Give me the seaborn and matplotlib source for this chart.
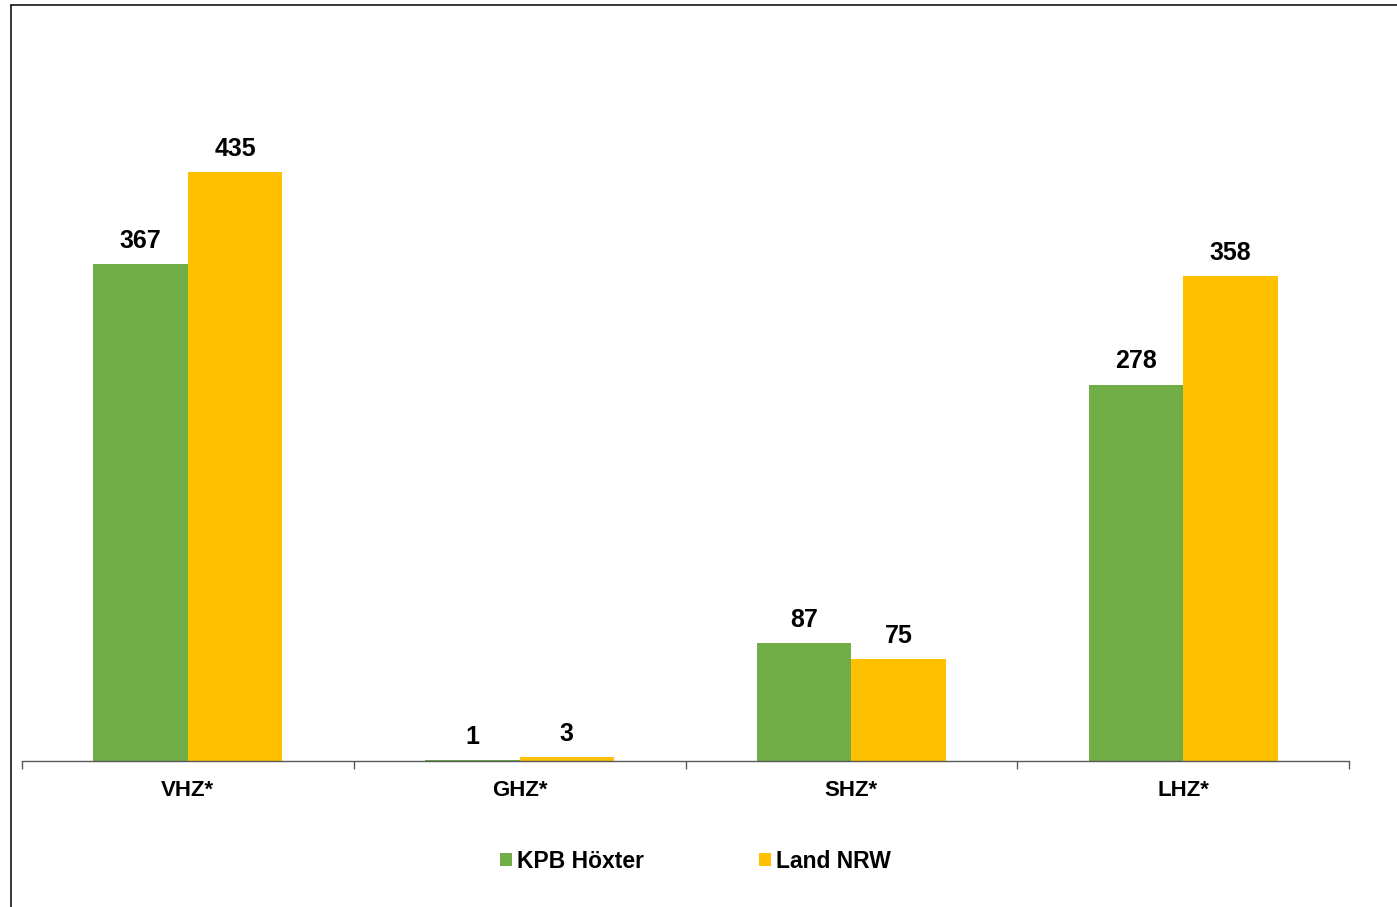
import pandas as pd
import matplotlib.pyplot as plt
import seaborn as sns
from matplotlib.patches import Rectangle
from matplotlib.lines import Line2D

# Chart data
categories = ["VHZ*", "GHZ*", "SHZ*", "LHZ*"]
series_names = ["KPB Höxter", "Land NRW"]
kpb_values = [367, 1, 87, 278]
nrw_values = [435, 3, 75, 358]
colors = ["#70AD47", "#FFC000"]

# Long-form table for seaborn
df = pd.DataFrame({
    "Kategorie": categories * 2,
    "Wert": kpb_values + nrw_values,
    "Serie": [series_names[0]] * len(categories) + [series_names[1]] * len(categories),
})

sns.set_style("white")
plt.rcParams["font.family"] = ["Liberation Sans", "DejaVu Sans"]
plt.rcParams["text.color"] = "black"

fig = plt.figure(figsize=(13.97, 9.07), dpi=100)
ax = fig.add_axes([22 / 1397, 146 / 907, 1327 / 1397, 677 / 907])

sns.barplot(data=df, x="Kategorie", y="Wert", hue="Serie", palette=colors,
            width=0.57, saturation=1, legend=False, linewidth=0,
            edgecolor="none", ax=ax)

ax.set_xlim(-0.5, 3.5)
ax.set_ylim(0, 500)

# Value labels on top of bars
for cont in ax.containers:
    ax.bar_label(cont, padding=8, fontsize=18, fontweight="bold", color="black")

# Axis styling
for side in ["top", "right", "left"]:
    ax.spines[side].set_visible(False)
ax.spines["bottom"].set_color("#595959")
ax.spines["bottom"].set_linewidth(1.0)
ax.set_yticks([])
ax.set_xlabel("")
ax.set_ylabel("")
ax.set_xticks(range(len(categories)))
ax.set_xticklabels(categories, fontsize=16, fontweight="bold", color="black")
ax.tick_params(axis="x", which="major", length=0, pad=14)
ax.set_xticks([-0.5, 0.5, 1.5, 2.5, 3.5], minor=True)
ax.tick_params(axis="x", which="minor", bottom=True, length=6, width=1,
               color="#595959", direction="out")

# Legend at the bottom
handles = [Rectangle((0, 0), 1, 1, facecolor=c, edgecolor="none") for c in colors]
leg = fig.legend(handles, series_names, loc="center", ncol=2,
                 bbox_to_anchor=(0.498, 0.0507), frameon=False,
                 handlelength=0.5, handleheight=0.5, handletextpad=0.25,
                 columnspacing=5.0, prop={"size": 16.5, "weight": "bold"})
for t in leg.get_texts():
    t.set_color("black")

# Outer chart frame (left and top edges visible)
fig.add_artist(Line2D([11 / 1397, 11 / 1397], [0, 1 - 5 / 907],
                      transform=fig.transFigure, color="black", linewidth=1.1))
fig.add_artist(Line2D([11 / 1397, 1], [1 - 5 / 907, 1 - 5 / 907],
                      transform=fig.transFigure, color="black", linewidth=1.1))

fig.savefig("out.png", dpi=100, facecolor="white")
